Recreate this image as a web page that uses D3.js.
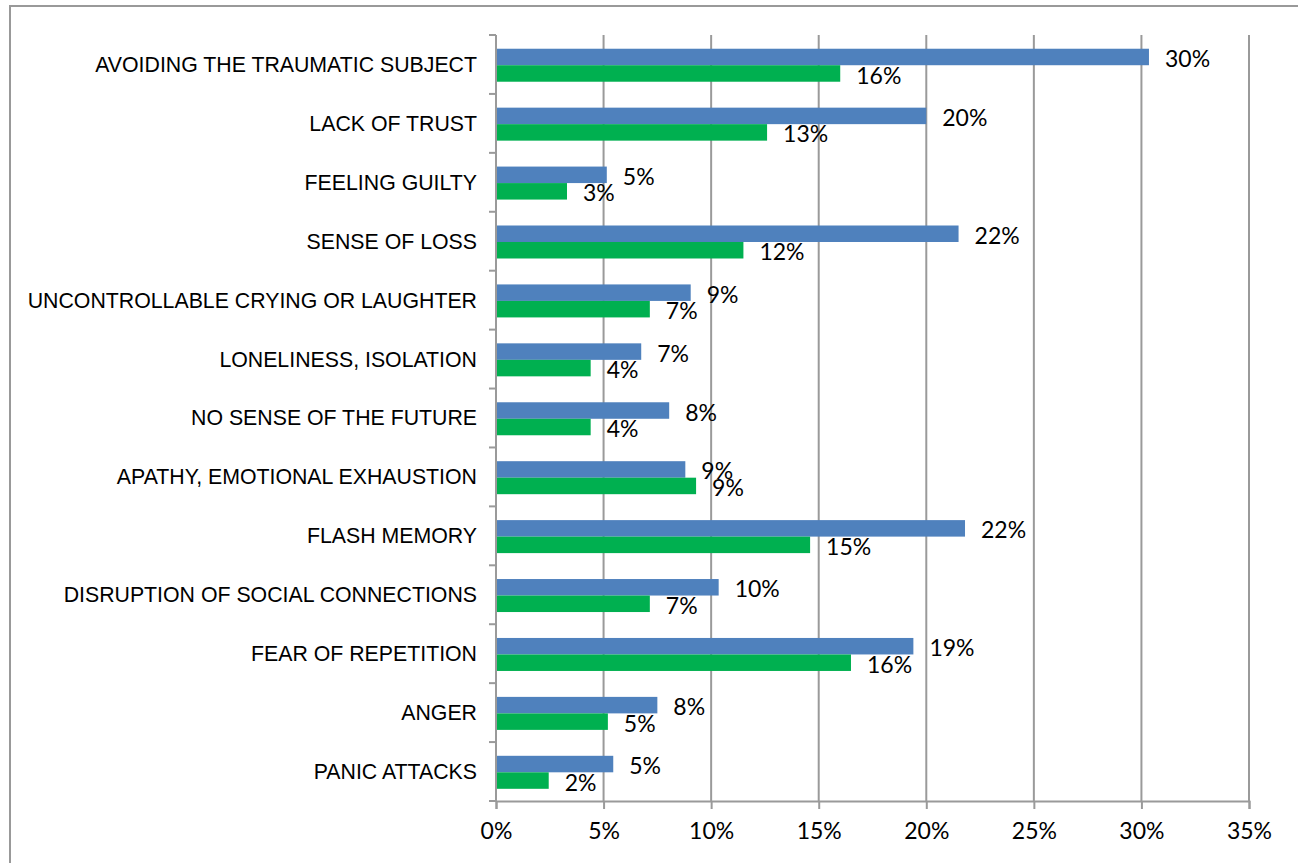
<html>
<script src="https://d3js.org/d3.v7.min.js"></script>
<style>
  body { margin: 0; background: #fff; }
  .cat text { font-family: "Liberation Sans", Arial, sans-serif; font-size: 21.3px; fill: #000; }
  .val { font-family: Lato, "Open Sans", sans-serif; font-size: 23px; fill: #000; }
  .xax text { font-family: Lato, "Open Sans", sans-serif; font-size: 23px; fill: #000; }
</style>
<body>
<svg width="1298" height="863"></svg>
<script>
var categories = ["AVOIDING THE TRAUMATIC SUBJECT", "LACK OF TRUST", "FEELING GUILTY", "SENSE OF LOSS",
  "UNCONTROLLABLE CRYING OR LAUGHTER", "LONELINESS, ISOLATION", "NO SENSE OF THE FUTURE",
  "APATHY, EMOTIONAL EXHAUSTION", "FLASH MEMORY", "DISRUPTION OF SOCIAL CONNECTIONS",
  "FEAR OF REPETITION", "ANGER", "PANIC ATTACKS"];
var blueValues  = [30.35, 20.0, 5.15, 21.5, 9.05, 6.75, 8.05, 8.8, 21.8, 10.35, 19.4, 7.5, 5.45];
var greenValues = [16.0, 12.6, 3.3, 11.5, 7.15, 4.4, 4.4, 9.3, 14.6, 7.15, 16.5, 5.2, 2.45];
var blueLabels  = ["30%", "20%", "5%", "22%", "9%", "7%", "8%", "9%", "22%", "10%", "19%", "8%", "5%"];
var greenLabels = ["16%", "13%", "3%", "12%", "7%", "4%", "4%", "9%", "15%", "7%", "16%", "5%", "2%"];
var xTicks = [0, 5, 10, 15, 20, 25, 30, 35];

var svg = d3.select("svg");
var gridColor = "#9a9a9a";

// outer frame
svg.append("rect").attr("x", 10).attr("y", 6).attr("width", 1400).attr("height", 1000)
  .attr("fill", "none").attr("stroke", "#999").attr("stroke-width", 2);

var x = d3.scaleLinear().domain([0, 35]).range([496, 1249]);
var y = d3.scaleBand().domain(categories).range([35, 801]);
var inner = d3.scaleBand().domain(["blue", "green"]).range([y.step() * 0.233, y.step() * 0.793]);

// vertical gridlines
svg.append("g").selectAll("line").data(xTicks.slice(1)).enter().append("line")
  .attr("x1", function(d){ return x(d); }).attr("x2", function(d){ return x(d); })
  .attr("y1", 35).attr("y2", 801)
  .attr("stroke", gridColor).attr("stroke-width", 2);

// x axis
var xAxis = d3.axisBottom(x).tickValues(xTicks).tickSize(8).tickPadding(14)
  .tickFormat(function(d){ return d + "%"; });
var gx = svg.append("g").attr("class", "xax").attr("transform", "translate(0,801)").call(xAxis);
gx.select(".domain").attr("stroke", gridColor).attr("stroke-width", 2);
gx.selectAll(".tick line").attr("stroke", gridColor).attr("stroke-width", 2);
gx.selectAll(".tick text").attr("font-family", null).attr("font-size", null);

// y axis: line, boundary ticks, category labels
svg.append("line").attr("x1", 496).attr("x2", 496).attr("y1", 35).attr("y2", 801)
  .attr("stroke", gridColor).attr("stroke-width", 2);
var bounds = categories.map(function(c){ return y(c); }).concat([801]);
svg.append("g").selectAll("line").data(bounds).enter().append("line")
  .attr("x1", 489).attr("x2", 496)
  .attr("y1", function(d){ return d; }).attr("y2", function(d){ return d; })
  .attr("stroke", gridColor).attr("stroke-width", 2);

var yAxis = d3.axisLeft(y).tickSize(0).tickPadding(19);
var gy = svg.append("g").attr("class", "cat").attr("transform", "translate(496,0)").call(yAxis);
gy.select(".domain").remove();
gy.selectAll(".tick text").attr("font-family", null).attr("font-size", null).attr("dy", "0.35em");

// bars
var rows = categories.map(function(c, i){
  return { cat: c, blue: blueValues[i], green: greenValues[i], bl: blueLabels[i], gl: greenLabels[i] };
});
var series = [
  { key: "blue", color: "#4F81BD", lab: "bl" },
  { key: "green", color: "#00B050", lab: "gl" }
];

series.forEach(function(s){
  svg.append("g").selectAll("rect").data(rows).enter().append("rect")
    .attr("x", x(0) + 1)
    .attr("y", function(d){ return y(d.cat) + inner(s.key); })
    .attr("width", function(d){ return x(d[s.key]) - x(0) - 1; })
    .attr("height", inner.bandwidth())
    .attr("fill", s.color);
  svg.append("g").selectAll("text").data(rows).enter().append("text")
    .attr("class", "val")
    .attr("x", function(d){ return x(d[s.key]) + 16; })
    .attr("y", function(d){ return y(d.cat) + inner(s.key) + inner.bandwidth() / 2 + 2; })
    .attr("dy", "0.35em")
    .text(function(d){ return d[s.lab]; });
});
</script>
</body>
</html>
